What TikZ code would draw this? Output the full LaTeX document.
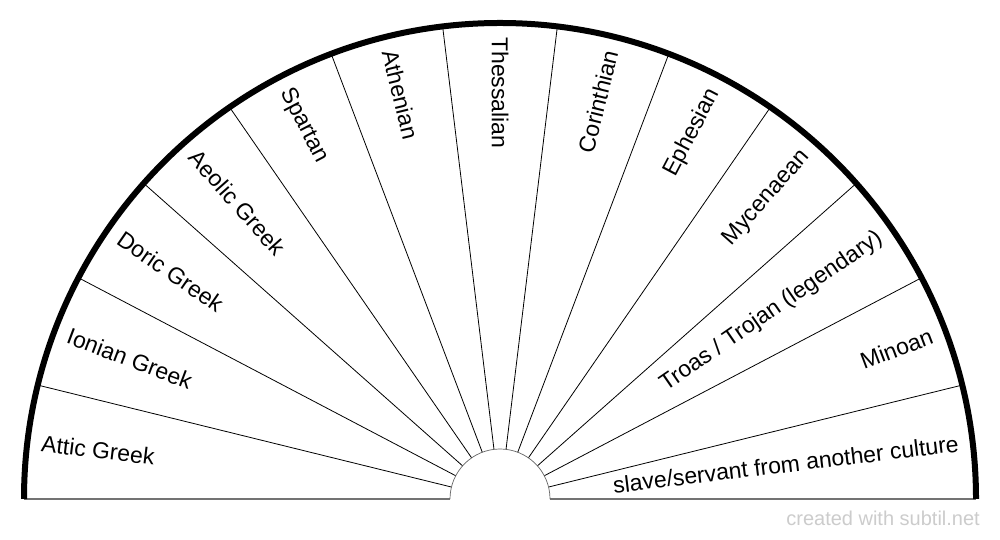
\documentclass[tikz,border=0pt]{standalone}
\usepackage{fontspec}
\setmainfont{Liberation Sans}
\usetikzlibrary{calc}
\begin{document}
\begin{tikzpicture}[x=1pt,y=1pt,
  divider/.style={line width=0.8pt,black},
  rimline/.style={line width=6pt,black},
  baseln/.style={line width=1.4pt,black!55},
  hubline/.style={line width=0.7pt,black!60},
  lbl/.style={font=\fontsize{23}{27}\selectfont,inner sep=0pt,text=black},
  wmark/.style={font=\fontsize{20}{24}\selectfont,text=black!20,inner sep=0pt}]
\useasboundingbox (0,0) rectangle (1000,540);
\fill[white] (0,0) rectangle (1000,540);
\coordinate (C) at (500,41);
\def\R{476}
\def\r{50}
% dividers
\foreach \k in {1,...,12}{
  \pgfmathsetmacro{\a}{\k*180/13}
  \draw[divider] ($(C)+(\a:\r)$) -- ($(C)+(\a:\R)$);
}
% baseline
\draw[baseln] ($(C)+(-\R,0)$) -- ($(C)+(-\r,0)$);
\draw[baseln] ($(C)+(\r,0)$) -- ($(C)+(\R,0)$);
% hub
\draw[hubline] ($(C)+(\r,0)$) arc[start angle=0,end angle=180,radius=\r];
% rim
\draw[rimline] ($(C)+(\R,0)$) arc[start angle=0,end angle=180,radius=\R];
% labels
\foreach \k/\t in {0/{slave/servant from another culture},1/Minoan,2/{Troas / Trojan (legendary)},3/Mycenaean,4/Ephesian,5/Corinthian}{
  \pgfmathsetmacro{\a}{(\k+0.5)*180/13}
  \node[lbl,anchor=east,rotate=\a] (l\k) at ($(C)+(\a:462)$) {\t};
}
\foreach \k/\t in {6/Thessalian,7/Athenian,8/Spartan,9/Aeolic Greek,10/Doric Greek,11/Ionian Greek,12/Attic Greek}{
  \pgfmathsetmacro{\a}{(\k+0.5)*180/13}
  \pgfmathsetmacro{\b}{\a-180}
  \node[lbl,anchor=west,rotate=\b] (l\k) at ($(C)+(\a:462)$) {\t};
}
\node[wmark,anchor=base east] (wm) at (980,14) {created with subtil.net};
\end{tikzpicture}
\end{document}
